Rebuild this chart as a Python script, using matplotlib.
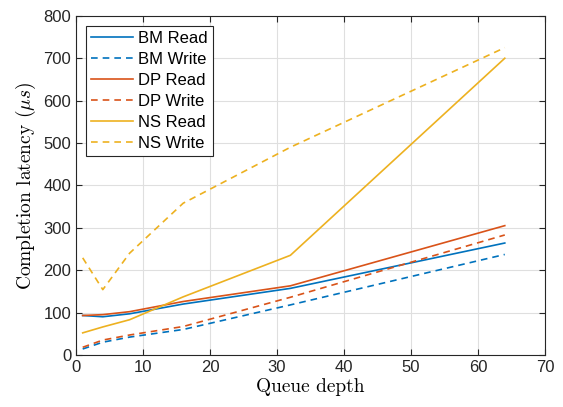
import matplotlib.pyplot as plt

plt.rcParams['mathtext.fontset'] = 'cm'

qd = [1, 4, 8, 16, 32, 64]
bm_read = [93, 90, 97, 120, 157, 264]
bm_write = [14, 30, 42, 60, 118, 237]
dp_read = [93, 95, 102, 126, 163, 305]
dp_write = [18, 35, 47, 67, 136, 283]
ns_read = [52, 66, 83, 137, 235, 700]
ns_write = [229, 154, 240, 358, 490, 725]

blue, red, yellow = '#0072BD', '#D95319', '#EDB120'

fig = plt.figure(figsize=(5.63, 4.07), dpi=100)
ax = fig.add_axes([0.135, 0.128, 0.833, 0.833])

dash = (0, (4, 3))
ax.plot(qd, bm_read, color=blue, lw=1.2, label='BM Read')
ax.plot(qd, bm_write, color=blue, lw=1.2, ls=dash, label='BM Write')
ax.plot(qd, dp_read, color=red, lw=1.2, label='DP Read')
ax.plot(qd, dp_write, color=red, lw=1.2, ls=dash, label='DP Write')
ax.plot(qd, ns_read, color=yellow, lw=1.2, label='NS Read')
ax.plot(qd, ns_write, color=yellow, lw=1.2, ls=dash, label='NS Write')

ax.set_xlim(0, 70)
ax.set_ylim(0, 800)
ax.set_xticks(range(0, 71, 10))
ax.set_yticks(range(0, 801, 100))
ax.grid(True, color='#dfdfdf', lw=0.8)
ax.set_axisbelow(True)
ax.tick_params(direction='in', top=True, right=True, labelsize=12, colors='#262626', length=4)
for lab in ax.get_xticklabels() + ax.get_yticklabels():
    lab.set_fontfamily('Liberation Sans')
for s in ax.spines.values():
    s.set_color('#262626')
    s.set_linewidth(0.8)

ax.set_xlabel('Queue depth', fontfamily='cmr10', fontsize=14, labelpad=2)
ax.set_ylabel(r'Completion latency ($\mu s$)', fontfamily='cmr10', fontsize=14, labelpad=4)

leg = ax.legend(loc='upper left', bbox_to_anchor=(0.022, 0.97), fancybox=False,
                framealpha=1, edgecolor='#262626', borderaxespad=0,
                prop={'family': 'Liberation Sans', 'size': 12},
                handlelength=2.5, labelspacing=0.36, handletextpad=0.3, borderpad=0.3)
leg.get_frame().set_linewidth(0.8)

fig.savefig('out.png')
